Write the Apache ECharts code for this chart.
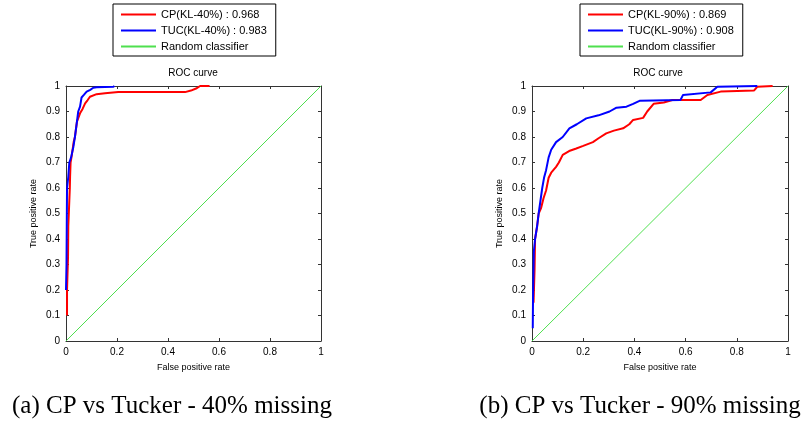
<!DOCTYPE html>
<html>
<head>
<meta charset="utf-8">
<script src="https://cdn.jsdelivr.net/npm/echarts@6/dist/echarts.min.js"></script>
<style>
  html, body { margin: 0; padding: 0; background: #fff; }
  #chart { width: 801px; height: 423px; }
</style>
</head>
<body>
<div id="chart"></div>
<script>
// * ROC curves, CP vs Tucker (two panels)

const chart = echarts.init(document.getElementById('chart'))

// series names (legend text); the second diagonal gets a trailing space so the names stay unique
const namesA = ['CP(KL-40%) : 0.968', 'TUC(KL-40%) : 0.983', 'Random classifier']
const namesB = ['CP(KL-90%) : 0.869', 'TUC(KL-90%) : 0.908', 'Random classifier ']
const captions = ['(a) CP vs Tucker - 40% missing', '(b) CP vs Tucker - 90% missing']

// [false positive rate, true positive rate]
const cp40 = [[0.004, 0.1], [0.004, 0.2], [0.008, 0.33], [0.009, 0.45], [0.013, 0.55], [0.015, 0.6],
  [0.016, 0.644], [0.018, 0.7], [0.023, 0.73], [0.03, 0.78], [0.035, 0.8], [0.043, 0.86],
  [0.055, 0.893], [0.065, 0.91], [0.075, 0.932], [0.085, 0.945], [0.094, 0.958], [0.12, 0.968],
  [0.153, 0.972], [0.205, 0.976], [0.467, 0.976], [0.49, 0.982], [0.51, 0.99], [0.526, 1], [0.563, 1]]
const tuc40 = [[0, 0.2], [0.002, 0.3], [0.003, 0.45], [0.004, 0.6], [0.009, 0.644], [0.013, 0.7],
  [0.02, 0.72], [0.029, 0.762], [0.035, 0.8], [0.042, 0.853], [0.048, 0.9], [0.055, 0.919],
  [0.061, 0.955], [0.07, 0.965], [0.081, 0.978], [0.095, 0.985], [0.107, 0.993], [0.12, 0.995],
  [0.186, 0.997], [0.19, 1]]
const cp90 = [[0.006, 0.15], [0.01, 0.28], [0.012, 0.4], [0.02, 0.45], [0.026, 0.5], [0.035, 0.52],
  [0.045, 0.56], [0.055, 0.59], [0.065, 0.64], [0.075, 0.66], [0.094, 0.683], [0.105, 0.7],
  [0.12, 0.73], [0.145, 0.745], [0.173, 0.755], [0.2, 0.765], [0.238, 0.78], [0.26, 0.795],
  [0.29, 0.814], [0.32, 0.825], [0.356, 0.834], [0.38, 0.85], [0.395, 0.867], [0.434, 0.875],
  [0.45, 0.9], [0.475, 0.93], [0.515, 0.935], [0.548, 0.945], [0.659, 0.945], [0.685, 0.965],
  [0.737, 0.978], [0.867, 0.982], [0.88, 0.997], [0.94, 1]]
const tuc90 = [[0.003, 0.05], [0.004, 0.17], [0.007, 0.35], [0.012, 0.4], [0.02, 0.45], [0.026, 0.5],
  [0.033, 0.55], [0.04, 0.6], [0.047, 0.64], [0.055, 0.67], [0.065, 0.72], [0.075, 0.75],
  [0.094, 0.78], [0.12, 0.8], [0.146, 0.834], [0.175, 0.85], [0.212, 0.873], [0.26, 0.885],
  [0.303, 0.9], [0.33, 0.915], [0.369, 0.919], [0.395, 0.93], [0.42, 0.942], [0.58, 0.945],
  [0.59, 0.965], [0.698, 0.975], [0.724, 0.997], [0.88, 1]]
const diagonal = [[0, 0], [1, 1]]

const font = 'Liberation Sans, Arial, sans-serif'
const boxColor = '#333'

// bottom/left axes carry labels, top/right ones only close the box
function xAxis (grid, pos) {
  const main = pos === 'bottom'
  return {
    type: 'value', gridIndex: grid, position: pos, min: 0, max: 1, interval: 0.2,
    name: main ? 'False positive rate' : '', nameLocation: 'middle', nameGap: 22,
    nameTextStyle: { fontSize: 9, fontFamily: font, color: '#000' },
    axisLine: { show: true, onZero: false, lineStyle: { color: boxColor, width: 1 } },
    axisTick: { show: true, inside: true, length: 3, lineStyle: { color: boxColor } },
    axisLabel: { show: main, fontSize: 10, fontFamily: font, color: '#000', margin: 6 },
    splitLine: { show: false }
  }
}
function yAxis (grid, pos) {
  const main = pos === 'left'
  return {
    type: 'value', gridIndex: grid, position: pos, min: 0, max: 1, interval: 0.1,
    name: main ? 'True positive rate' : '', nameLocation: 'middle', nameGap: 28,
    nameTextStyle: { fontSize: 9, fontFamily: font, color: '#000' },
    axisLine: { show: true, onZero: false, lineStyle: { color: boxColor, width: 1 } },
    axisTick: { show: true, inside: true, length: 3, lineStyle: { color: boxColor } },
    axisLabel: { show: main, fontSize: 10, fontFamily: font, color: '#000', margin: 6 },
    splitLine: { show: false }
  }
}

function line (name, data, color, width, axis) {
  return {
    name, type: 'line', data, xAxisIndex: axis, yAxisIndex: axis,
    showSymbol: false, symbol: 'none', animation: false,
    emphasis: { disabled: true },
    lineStyle: { color, width }, itemStyle: { color }
  }
}

// legend shows only the line sample, no marker
function legend (left, names) {
  return {
    left, top: 4, orient: 'vertical', data: names,
    itemWidth: 35, itemHeight: 10, itemGap: 5, itemStyle: { opacity: 0 },
    padding: [5, 9, 4, 7], borderColor: '#000', borderWidth: 1,
    formatter: name => name.trim(),
    textStyle: { fontSize: 11, fontFamily: font, color: '#000' }
  }
}

const option = {
  backgroundColor: '#fff',
  animation: false,
  title: [
    { text: 'ROC curve', left: 193, top: 68, textAlign: 'center', padding: 0,
      textStyle: { fontSize: 10, fontWeight: 'normal', fontFamily: font, color: '#000' } },
    { text: 'ROC curve', left: 658, top: 68, textAlign: 'center', padding: 0,
      textStyle: { fontSize: 10, fontWeight: 'normal', fontFamily: font, color: '#000' } },
    { text: captions[0], left: 172, top: 394, textAlign: 'center', padding: 0,
      textStyle: { fontSize: 25, fontWeight: 'normal', fontFamily: 'Liberation Serif, serif', color: '#000' } },
    { text: captions[1], left: 640, top: 394, textAlign: 'center', padding: 0,
      textStyle: { fontSize: 25, fontWeight: 'normal', fontFamily: 'Liberation Serif, serif', color: '#000' } }
  ],
  legend: [legend(113, namesA), legend(580, namesB)],
  grid: [
    { left: 66, top: 86, width: 255, height: 255 },
    { left: 532, top: 86, width: 256, height: 255 }
  ],
  xAxis: [xAxis(0, 'bottom'), xAxis(1, 'bottom'), xAxis(0, 'top'), xAxis(1, 'top')],
  yAxis: [yAxis(0, 'left'), yAxis(1, 'left'), yAxis(0, 'right'), yAxis(1, 'right')],
  series: [
    line(namesA[2], diagonal, '#4fe04f', 1, 0),
    line(namesA[0], cp40, '#ff0000', 2, 0),
    line(namesA[1], tuc40, '#0000ff', 2, 0),
    line(namesB[2], diagonal, '#4fe04f', 1, 1),
    line(namesB[0], cp90, '#ff0000', 2, 1),
    line(namesB[1], tuc90, '#0000ff', 2, 1)
  ]
}

chart.setOption(option)
</script>
</body>
</html>
